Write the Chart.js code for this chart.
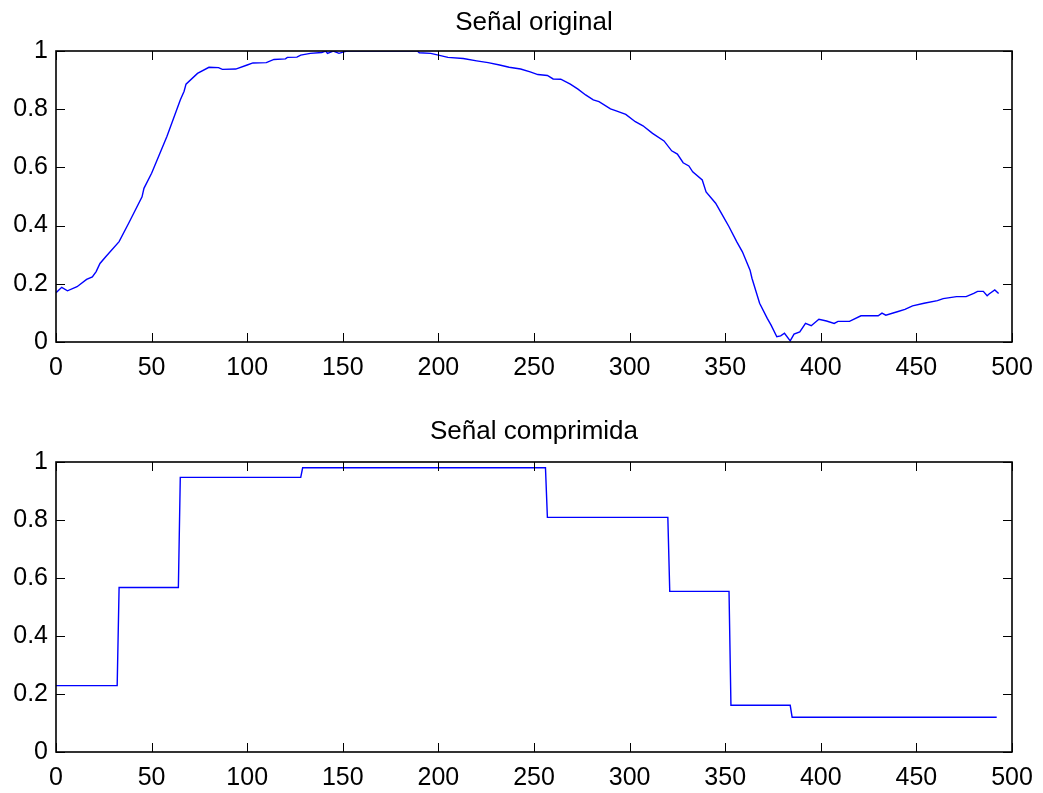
<!DOCTYPE html>
<html lang="es">
<head>
<meta charset="utf-8">
<title>Señal original / Señal comprimida</title>
<script src="https://cdn.jsdelivr.net/npm/chart.js@4.4.1/dist/chart.umd.min.js"></script>
<style>
  html, body { margin: 0; padding: 0; background: #fff; }
  body { width: 1043px; height: 793px; position: relative; overflow: hidden; }
  canvas { position: absolute; left: 0; display: block; }
  #chartOriginal { top: 0; }
  #chartComprimida { top: 400px; }
</style>
</head>
<body>
<canvas id="chartOriginal" width="1043" height="400"></canvas>
<canvas id="chartComprimida" width="1043" height="393"></canvas>
<script>
/*
 * Dos subgráficas estilo MATLAB : señal original y señal comprimida (por tramos).
 * Valores leídos a ojo sobre la figura de referencia.
 */

// Ejes
const xTicks = [0, 50, 100, 150, 200, 250, 300, 350, 400, 450, 500];
const xTickLabels = ['0', '50', '100', '150', '200', '250', '300', '350', '400', '450', '500'];
const yTicks = [0, 0.2, 0.4, 0.6, 0.8, 1];
const yTickLabels = ['0', '0.2', '0.4', '0.6', '0.8', '1'];

// Señal original (muestras)
const originalX = [
    0, 3, 6, 11, 16, 19, 21, 23, 26, 33, 38, 45, 46, 50, 58, 65, 67, 68, 74, 80,
    85, 87, 94, 100, 103, 110, 114, 120, 121, 126, 128, 133, 139, 141, 142, 145, 148, 152, 189, 190,
    196, 200, 205, 213, 220, 226, 232, 237, 243, 248, 252, 257, 260, 264, 269, 273, 277, 281, 284, 290,
    293, 298, 303, 307, 312, 318, 322, 325, 328, 331, 333, 338, 340, 345, 349, 352, 356, 359, 363, 364,
    368, 372, 374, 377, 379, 381, 384, 386, 389, 392, 395, 399, 403, 407, 409, 415, 421, 430, 432, 434,
    440, 444, 448, 454, 461, 464, 471, 476, 480, 482, 485, 487, 488, 491, 493
];
const originalY = [
    0.169, 0.188, 0.176, 0.190, 0.215, 0.224, 0.242, 0.270, 0.293, 0.345, 0.408, 0.499, 0.528, 0.580, 0.706, 0.832, 0.862, 0.886, 0.923, 0.944,
    0.943, 0.937, 0.938, 0.952, 0.959, 0.960, 0.971, 0.973, 0.978, 0.979, 0.986, 0.992, 0.995, 1.000, 0.992, 1.000, 0.992, 1.000, 1.000, 0.994,
    0.992, 0.986, 0.978, 0.974, 0.966, 0.960, 0.952, 0.944, 0.938, 0.928, 0.919, 0.916, 0.904, 0.903, 0.886, 0.869, 0.849, 0.832, 0.826, 0.801,
    0.794, 0.782, 0.757, 0.743, 0.717, 0.691, 0.657, 0.646, 0.616, 0.605, 0.585, 0.557, 0.516, 0.477, 0.431, 0.396, 0.345, 0.310, 0.247, 0.219,
    0.133, 0.081, 0.058, 0.018, 0.021, 0.030, 0.004, 0.027, 0.035, 0.064, 0.056, 0.078, 0.072, 0.064, 0.071, 0.071, 0.090, 0.090, 0.099, 0.092,
    0.104, 0.112, 0.124, 0.133, 0.142, 0.149, 0.156, 0.156, 0.167, 0.174, 0.174, 0.159, 0.165, 0.179, 0.167
];

// Señal comprimida : un nivel constante entre cada par de cortes
const comprimidaCortes = [0, 32, 64, 128, 256, 320, 352, 384, 492];
const comprimidaNiveles = [0.229, 0.567, 0.947, 0.980, 0.809, 0.554, 0.161, 0.120];

(function () {
    'use strict';

    const AZUL = '#0000ff';
    const FUENTE = 'Liberation Sans, Arial, Helvetica, sans-serif';
    const TICK = 9; // largo de las marcas hacia dentro

    function puntosOriginal() {
        return originalX.map(function (x, i) { return { x: x, y: originalY[i] }; });
    }

    function puntosComprimida() {
        const pts = [];
        for (let i = 0; i < comprimidaNiveles.length; i++) {
            const desde = i === 0 ? comprimidaCortes[0] : comprimidaCortes[i] + 1;
            pts.push({ x: desde, y: comprimidaNiveles[i] });
            pts.push({ x: comprimidaCortes[i + 1], y: comprimidaNiveles[i] });
        }
        return pts;
    }

    // caja + marcas interiores en los cuatro lados, como "box on" de MATLAB
    const marcoMatlab = {
        id: 'marcoMatlab',
        afterDatasetsDraw: function (chart) {
            const ctx = chart.ctx;
            const a = chart.chartArea;
            const sx = chart.scales.x;
            const sy = chart.scales.y;
            ctx.save();
            ctx.strokeStyle = '#000';
            ctx.lineWidth = 1;
            ctx.beginPath();
            xTicks.forEach(function (v) {
                const px = Math.round(sx.getPixelForValue(v)) + 0.5;
                ctx.moveTo(px, a.bottom); ctx.lineTo(px, a.bottom - TICK);
                ctx.moveTo(px, a.top); ctx.lineTo(px, a.top + TICK);
            });
            yTicks.forEach(function (v) {
                const py = Math.round(sy.getPixelForValue(v)) + 0.5;
                ctx.moveTo(a.left, py); ctx.lineTo(a.left + TICK, py);
                ctx.moveTo(a.right, py); ctx.lineTo(a.right - TICK, py);
            });
            ctx.stroke();
            ctx.lineWidth = 1.6;
            ctx.strokeRect(a.left, a.top, a.right - a.left, a.bottom - a.top);
            ctx.restore();
        }
    };

    function buildConfig(titulo, puntos, opts) {
        return {
            type: 'line',
            data: {
                datasets: [{
                    data: puntos,
                    borderColor: AZUL,
                    borderWidth: 1.4,
                    pointRadius: 0,
                    tension: 0,
                    fill: false,
                }]
            },
            options: {
                responsive: false,
                animation: false,
                layout: { padding: { left: 0, right: 31, top: 0, bottom: 0 } },
                plugins: {
                    legend: { display: false },
                    tooltip: { enabled: false },
                    title: {
                        display: true,
                        fullSize: false, // centrado sobre el área de trazado
                        text: titulo,
                        color: '#000',
                        font: { family: FUENTE, size: 26, weight: 'normal', lineHeight: 1.2 },
                        padding: opts.titlePadding
                    }
                },
                scales: {
                    x: {
                        type: 'linear',
                        min: 0,
                        max: 500,
                        grid: { display: false, drawTicks: false },
                        border: { display: false },
                        afterBuildTicks: function (scale) {
                            scale.ticks = xTicks.map(function (v) { return { value: v }; });
                        },
                        afterFit: function (scale) {
                            scale.height = opts.xHeight;
                            scale.paddingLeft = 0;
                            scale.paddingRight = 0;
                        },
                        ticks: {
                            color: '#000',
                            padding: 11,
                            maxRotation: 0,
                            autoSkip: false,
                            font: { family: FUENTE, size: 25 },
                            callback: function (v, i) { return xTickLabels[i]; }
                        }
                    },
                    y: {
                        min: 0,
                        max: 1,
                        grid: { display: false, drawTicks: false },
                        border: { display: false },
                        afterBuildTicks: function (scale) {
                            scale.ticks = yTicks.map(function (v) { return { value: v }; });
                        },
                        afterFit: function (scale) {
                            scale.width = 56;
                            scale.paddingTop = 0;
                            scale.paddingBottom = 0;
                        },
                        ticks: {
                            color: '#000',
                            padding: 8,
                            autoSkip: false,
                            font: { family: FUENTE, size: 25 },
                            callback: function (v, i) { return yTickLabels[i]; }
                        }
                    }
                }
            },
            plugins: [marcoMatlab]
        };
    }

    function initAll() {
        if (typeof Chart === 'undefined') {
            console.warn('Chart.js no cargado.');
            return;
        }
        new Chart(document.getElementById('chartOriginal'),
            buildConfig('Señal original', puntosOriginal(), {
                titlePadding: { top: 7, bottom: 12.8 },
                xHeight: 58
            }));
        new Chart(document.getElementById('chartComprimida'),
            buildConfig('Señal comprimida', puntosComprimida(), {
                titlePadding: { top: 16.4, bottom: 14.4 },
                xHeight: 41
            }));
    }

    if (document.readyState === 'loading') {
        document.addEventListener('DOMContentLoaded', initAll);
    } else {
        initAll();
    }
})();
</script>
</body>
</html>
